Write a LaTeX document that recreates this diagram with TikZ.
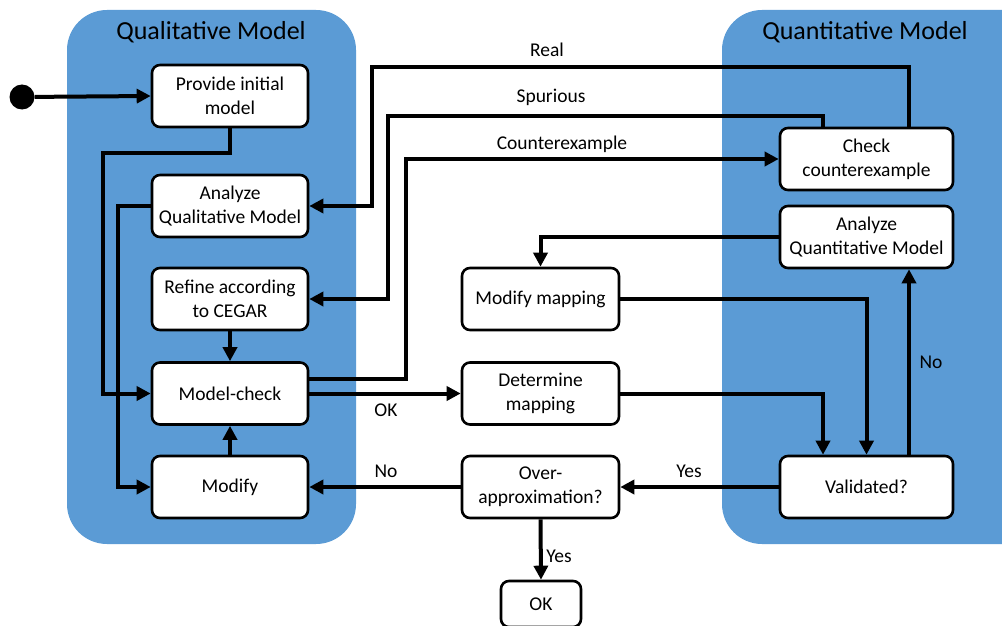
\documentclass[tikz,border=0pt]{standalone}
\usepackage{fontspec}
\setmainfont{Carlito}
\usetikzlibrary{arrows.meta}
\definecolor{panelblue}{HTML}{5B9BD5}
\begin{document}
\begin{tikzpicture}[x=1pt,y=-1pt,
  panel/.style={fill=panelblue,draw=none,rounded corners=40pt},
  stepbox/.style={draw=black,fill=white,line width=2.6pt,rounded corners=8pt,
    minimum height=62pt,align=center,inner sep=2pt,
    font=\fontsize{19.5}{24}\selectfont},
  conn/.style={line width=4pt,-{Triangle[length=14pt,width=14pt]}},
  lbl/.style={font=\fontsize{19.5}{24}\selectfont,inner sep=0pt},
  title/.style={font=\fontsize{26}{30}\selectfont,inner sep=0pt}]
\useasboundingbox (0,0) rectangle (1002,626);
\clip (0,0) rectangle (1002,626);

% swimlane panels
\fill[panel] (67,10) rectangle (356,544);
\fill[panel] (722,10) rectangle (1042,544);
\node[title] (tqual) at (211,32) {Qualitative Model};
\node[title] (tquant) at (865,32) {Quantitative Model};

% left column
\node[stepbox,minimum width=156pt] (pim) at (230,96) {Provide initial\\model};
\node[stepbox,minimum width=156pt] (aq) at (230,206) {Analyze\\Qualitative Model};
\node[stepbox,minimum width=156pt] (ref) at (230,299) {Refine according\\to CEGAR};
\node[stepbox,minimum width=156pt] (mc) at (230,393.5) {Model-check};
\node[stepbox,minimum width=156pt] (mod) at (230,487) {Modify};

% middle column
\node[stepbox,minimum width=157pt] (mm) at (540.5,299) {Modify mapping};
\node[stepbox,minimum width=157pt] (dm) at (540.5,393.5) {Determine\\mapping};
\node[stepbox,minimum width=157pt] (oa) at (540.5,487) {Over-\\approximation?};
\node[stepbox,minimum width=80pt,minimum height=46pt] (ok) at (541,604) {OK};

% right column
\node[stepbox,minimum width=173pt] (chk) at (866.5,159) {Check\\counterexample};
\node[stepbox,minimum width=173pt] (aqt) at (866.5,237) {Analyze\\Quantitative Model};
\node[stepbox,minimum width=173pt] (val) at (866.5,487) {Validated?};

% initial state
\node[circle,fill=black,minimum size=25pt,inner sep=0pt] (start) at (22,97) {};
\draw[conn] (start) -- (pim.west);

% qualitative side
\draw[conn] (pim.south) |- (103,153) |- (mc.west);
\draw[conn] (aq.west) -- (118,206) |- (mod.west);
\draw[conn] (ref.south) -- (mc.north);
\draw[conn] (mod.north) -- (mc.south);

% counterexample loop
\draw[conn] ([yshift=15pt]mc.east) -- (406,378.5) |- (chk.west);
\draw[conn] ([xshift=-43.5pt]chk.north) |- (388,116) |- (ref.east);
\draw[conn] ([xshift=42.5pt]chk.north) |- (372,67) |- (aq.east);
\node[lbl] (lcex) at (562,144) {Counterexample};
\node[lbl] (lspu) at (551,97) {Spurious};
\node[lbl] (lreal) at (547,50) {Real};

% mapping and validation
\draw[conn] (mc.east) -- (dm.west);
\node[lbl] (lok) at (386,410) {OK};
\draw[conn] (dm.east) -| ([xshift=-43.5pt]val.north);
\draw[conn] (mm.east) -| (val.north);
\draw[conn] ([xshift=42.5pt]val.north) -- ([xshift=42.5pt]aqt.south);
\node[lbl] (lno1) at (931,362) {No};
\draw[conn] (aqt.west) -| (mm.north);
\draw[conn] (val.west) -- (oa.east);
\node[lbl] (lyes1) at (689,471) {Yes};
\draw[conn] (oa.west) -- (mod.east);
\node[lbl] (lno2) at (386,471) {No};
\draw[conn] (oa.south) -- (ok.north);
\node[lbl] (lyes2) at (559,556) {Yes};
\end{tikzpicture}
\end{document}
